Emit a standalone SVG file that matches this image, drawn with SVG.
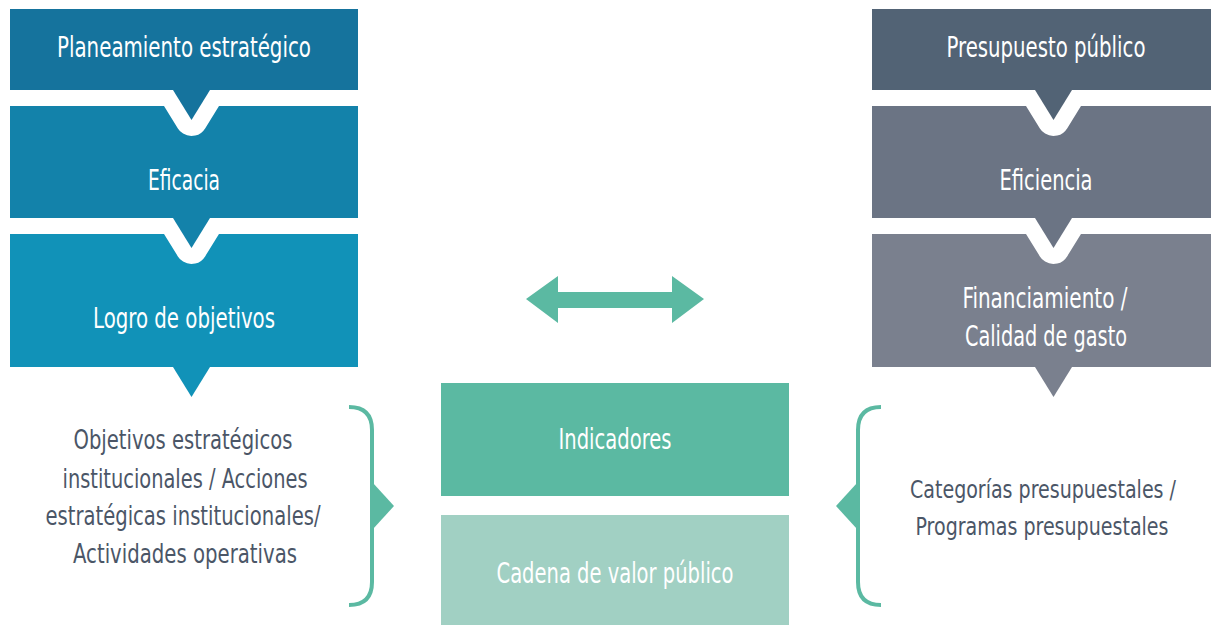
<svg xmlns="http://www.w3.org/2000/svg" width="1211" height="625" viewBox="0 0 1211 625">
<style>
.t{font-family:"DejaVu Sans Condensed","Liberation Sans Narrow","Liberation Sans",sans-serif;font-size:29px;fill:#ffffff;text-anchor:middle}
.g{font-family:"DejaVu Sans Condensed","Liberation Sans Narrow","Liberation Sans",sans-serif;font-size:26px;fill:#4b5667;text-anchor:middle}
.gs{font-size:24px}
.notch{stroke:#ffffff;stroke-width:32;stroke-linejoin:round;paint-order:stroke}
.brace{fill:none;stroke:#5bb9a2;stroke-width:4}
</style>
<rect width="1211" height="625" fill="#ffffff"/>
<g id="left-col">
  <g id="logro">
    <rect x="10" y="234" width="348" height="133" fill="#1192b8"/>
    <polygon points="173,367 210,367 191.5,397" fill="#1192b8"/>
    <text class="t" x="184" y="328" textLength="182" lengthAdjust="spacingAndGlyphs">Logro de objetivos</text>
  </g>
  <g id="eficacia">
    <polygon class="notch" points="173,218 210,218 191.5,248" fill="#1382aa"/>
    <rect x="10" y="106" width="348" height="112" fill="#1382aa"/>
    <text class="t" x="184" y="190" textLength="72" lengthAdjust="spacingAndGlyphs">Eficacia</text>
  </g>
  <g id="planeamiento">
    <polygon class="notch" points="173,90 210,90 191.5,120" fill="#15739d"/>
    <rect x="10" y="9" width="348" height="81" fill="#15739d"/>
    <text class="t" x="184" y="57" textLength="254" lengthAdjust="spacingAndGlyphs">Planeamiento estratégico</text>
  </g>
</g>
<g id="right-col">
  <g id="financiamiento">
    <rect x="872" y="234" width="348" height="133" fill="#7a808e"/>
    <polygon points="1035,367 1072,367 1053.5,397" fill="#7a808e"/>
    <text class="t" x="1045" y="308" textLength="165" lengthAdjust="spacingAndGlyphs">Financiamiento /</text>
    <text class="t" x="1046" y="346" textLength="162" lengthAdjust="spacingAndGlyphs">Calidad de gasto</text>
  </g>
  <g id="eficiencia">
    <polygon class="notch" points="1035,218 1072,218 1053.5,248" fill="#6b7484"/>
    <rect x="872" y="106" width="348" height="112" fill="#6b7484"/>
    <text class="t" x="1046" y="190" textLength="93" lengthAdjust="spacingAndGlyphs">Eficiencia</text>
  </g>
  <g id="presupuesto">
    <polygon class="notch" points="1035,90 1072,90 1053.5,120" fill="#526375"/>
    <rect x="872" y="9" width="348" height="81" fill="#526375"/>
    <text class="t" x="1046" y="57" textLength="199" lengthAdjust="spacingAndGlyphs">Presupuesto público</text>
  </g>
</g>
<g id="indicadores">
  <rect x="441" y="383" width="348" height="113" fill="#5bb9a2"/>
  <text class="t" x="615" y="449" textLength="113" lengthAdjust="spacingAndGlyphs">Indicadores</text>
</g>
<g id="cadena">
  <rect x="441" y="515" width="348" height="110" fill="#a1d0c3"/>
  <text class="t" x="615" y="583" textLength="237" lengthAdjust="spacingAndGlyphs">Cadena de valor público</text>
</g>
<g id="left-text">
  <text class="g" x="183" y="449" textLength="219" lengthAdjust="spacingAndGlyphs">Objetivos estratégicos</text>
  <text class="g" x="185" y="488" textLength="245" lengthAdjust="spacingAndGlyphs">institucionales / Acciones</text>
  <text class="g" x="183" y="525" textLength="275" lengthAdjust="spacingAndGlyphs">estratégicas institucionales/</text>
  <text class="g" x="185" y="563" textLength="224" lengthAdjust="spacingAndGlyphs">Actividades operativas</text>
</g>
<g id="right-text">
  <text class="g gs" x="1043" y="498" textLength="266" lengthAdjust="spacingAndGlyphs">Categorías presupuestales /</text>
  <text class="g gs" x="1042" y="535" textLength="253" lengthAdjust="spacingAndGlyphs">Programas presupuestales</text>
</g>
<g id="connectors">
  <path class="brace" d="M349,407 Q372,407 372,430 L372,582 Q372,605 349,605"/>
  <polygon points="373,483 394,506 373,529" fill="#5bb9a2"/>
  <path class="brace" d="M881,407 Q858,407 858,430 L858,582 Q858,605 881,605"/>
  <polygon points="857,483 836,506 857,529" fill="#5bb9a2"/>
  <polygon points="526,299 558,276 558,292 672,292 672,276 704,299 672,323 672,308 558,308 558,323" fill="#5bb9a2"/>
</g>
</svg>
